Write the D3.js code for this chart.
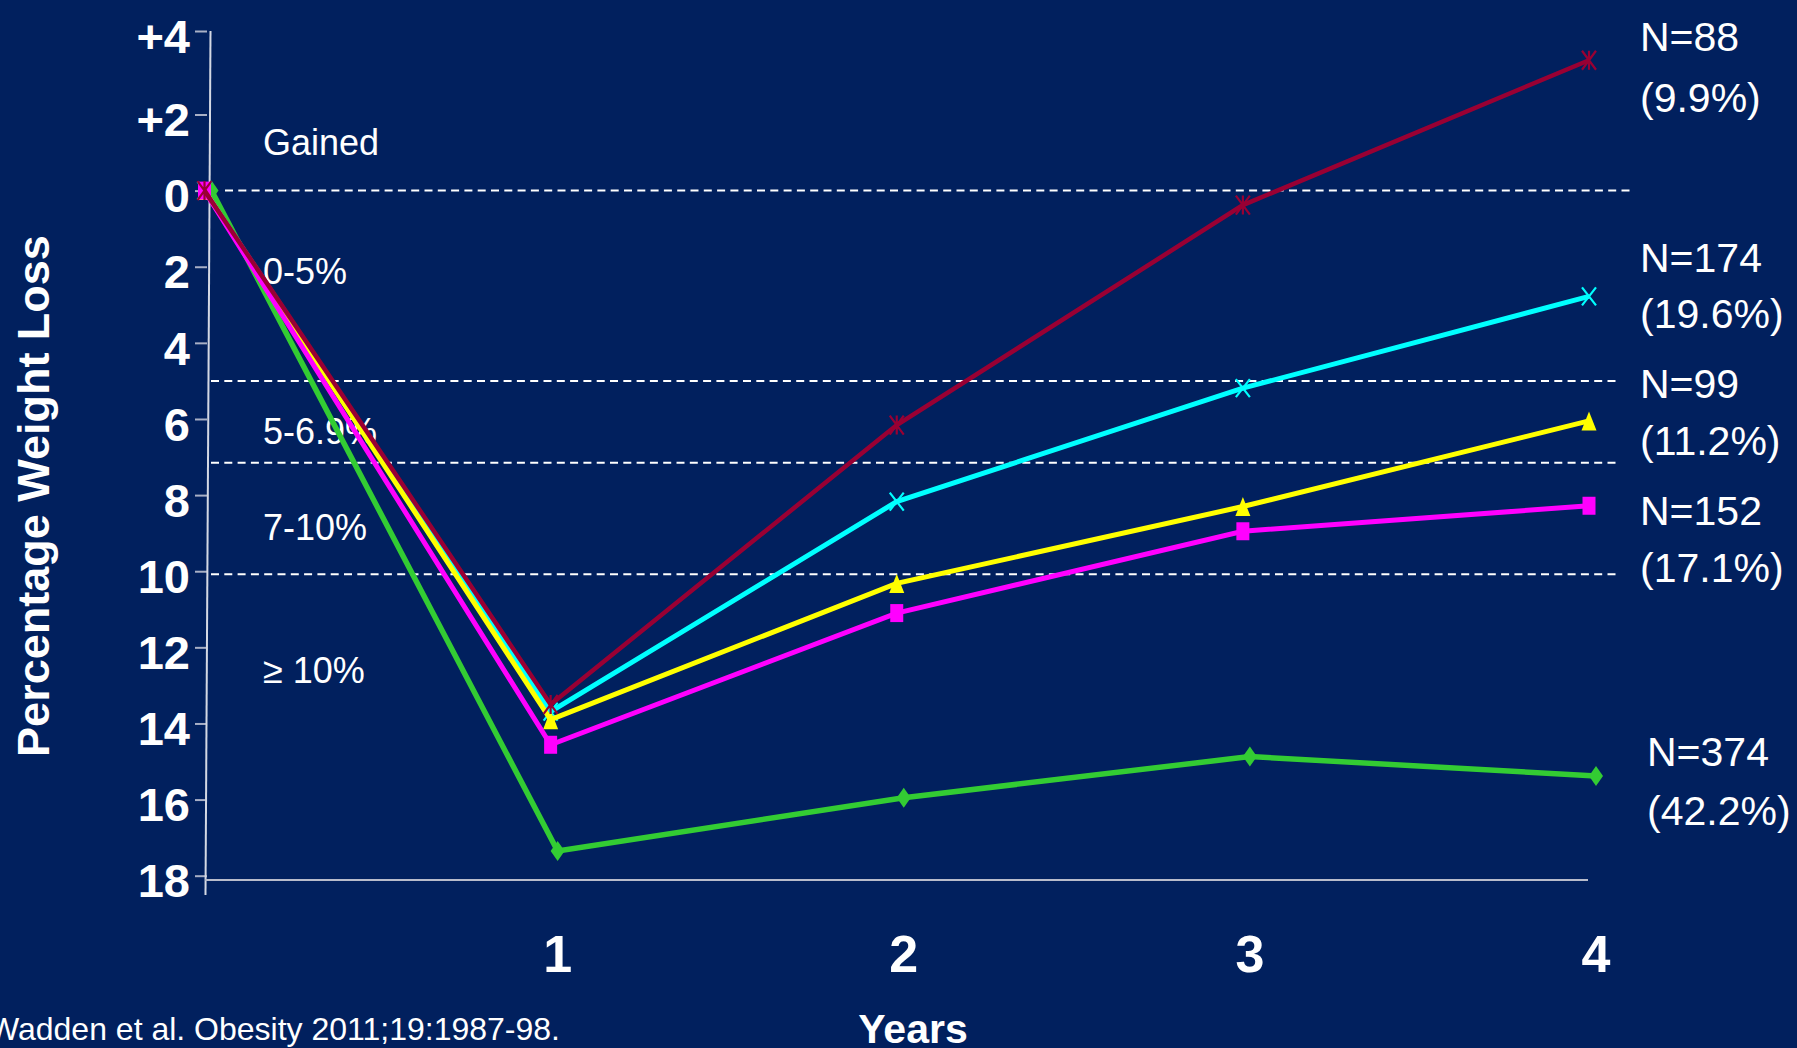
<!DOCTYPE html>
<html>
<head>
<meta charset="utf-8">
<script src="https://cdn.jsdelivr.net/npm/d3@7"></script>
<style>
  html, body { margin: 0; padding: 0; background: #01205e; overflow: hidden; }
  svg { display: block; }
  text { font-family: Arial, "Liberation Sans", sans-serif; fill: #ffffff; }
</style>
</head>
<body>
<svg id="chart" width="1797" height="1048"></svg>
<script>
// ---- data ----
const years = [0, 1, 2, 3, 4];
const yTickValues = [-4, -2, 0, 2, 4, 6, 8, 10, 12, 14, 16, 18];
const yTickLabels = ["+4", "+2", "0", "2", "4", "6", "8", "10", "12", "14", "16", "18"];
const xTickValues = [1, 2, 3, 4];

// percentage weight loss (negative = gained)
const gainedValues  = [0, 13.5, 6.16, 0.38, -3.3];
const loss0to5      = [0, 13.69, 8.17, 5.19, 2.78];
const loss5to69     = [0, 13.9, 10.32, 8.3, 6.05];
const loss7to10     = [0, 14.56, 11.1, 8.95, 8.28];
const loss10plus    = [0, 17.35, 15.95, 14.87, 15.38];

const groupN   = ["N=88", "N=174", "N=99", "N=152", "N=374"];
const groupPct = ["(9.9%)", "(19.6%)", "(11.2%)", "(17.1%)", "(42.2%)"];

const bandBoundaries = [0, 5, 7.15, 10.08];
const bandLabels = ["Gained", "0-5%", "5-6.9%", "7-10%", "\u2265 10%"];

// ---- layout ----
const svg = d3.select("#chart");
const W = 1797, H = 1048;
svg.append("rect").attr("width", W).attr("height", H).attr("fill", "#01205e");

const x = d3.scaleLinear().domain([0, 4]).range([204.5, 1589]);
const y = d3.scaleLinear().domain([-4, -2, 18]).range([31, 114.5, 875.7]);

// ---- marker shapes (slightly taller than wide) ----
const shapes = {
  square: (w, h) => ({ draw(c) { c.moveTo(-w/2, -h/2); c.lineTo(w/2, -h/2); c.lineTo(w/2, h/2); c.lineTo(-w/2, h/2); c.closePath(); } }),
  triangle: (w, h) => ({ draw(c) { c.moveTo(0, -h/2); c.lineTo(w/2, h/2); c.lineTo(-w/2, h/2); c.closePath(); } }),
  diamond: (w, h) => ({ draw(c) { c.moveTo(0, -h/2); c.lineTo(w/2, 0); c.lineTo(0, h/2); c.lineTo(-w/2, 0); c.closePath(); } }),
  cross: (w, h) => ({ draw(c) { c.moveTo(-w/2, -h/2); c.lineTo(w/2, h/2); c.moveTo(w/2, -h/2); c.lineTo(-w/2, h/2); } }),
  star: (w, h) => ({ draw(c) { c.moveTo(-w/2, -h/2); c.lineTo(w/2, h/2); c.moveTo(w/2, -h/2); c.lineTo(-w/2, h/2); c.moveTo(0, -h/2); c.lineTo(0, h/2); } })
};

const series = [
  { values: loss10plus, color: "#33cc33", width: 5.5, shape: "diamond",  w: 14, h: 20, filled: true,  dx: 7 },
  { values: loss0to5,   color: "#00ffff", width: 5,   shape: "cross",    w: 14, h: 18, filled: false, dx: 0 },
  { values: loss5to69,  color: "#ffff00", width: 5,   shape: "triangle", w: 15, h: 19, filled: true,  dx: 0 },
  { values: loss7to10,  color: "#ff00ff", width: 5,   shape: "square",   w: 13, h: 18, filled: true,  dx: 0 },
  { values: gainedValues, color: "#990033", width: 4.5, shape: "star",   w: 14, h: 19, filled: false, dx: 0 }
];

// ---- category boundary lines ----
const dashStarts = [225, 211, 211, 211];
const dashEnds = [1630, 1617, 1617, 1617];
svg.append("g").selectAll("line")
  .data(bandBoundaries)
  .join("line")
  .attr("x1", (d, i) => dashStarts[i])
  .attr("x2", (d, i) => dashEnds[i])
  .attr("y1", d => y(d))
  .attr("y2", d => y(d))
  .attr("stroke", "#ffffff")
  .attr("stroke-width", 2)
  .attr("stroke-dasharray", "8,5.3");

// band labels
const bandBaselines = [155, 284, 444, 540, 683];
svg.append("g").selectAll("text")
  .data(bandLabels)
  .join("text")
  .attr("x", 263)
  .attr("y", (d, i) => bandBaselines[i])
  .attr("font-size", 36)
  .text(d => d);

// ---- y axis ----
const yAxis = d3.axisLeft(y).tickValues(yTickValues).tickSize(12).tickFormat((d, i) => yTickLabels[i]);
const yg = svg.append("g").attr("transform", "translate(207,0)").call(yAxis);
yg.select(".domain").remove();
yg.selectAll(".tick line").attr("stroke", "#a9b0c6").attr("stroke-width", 2);
yg.selectAll(".tick text")
  .attr("x", -17)
  .attr("dy", "0.45em")
  .attr("font-size", 47)
  .attr("font-weight", "bold")
  .attr("font-family", "Arial, 'Liberation Sans', sans-serif")
  .attr("fill", "#ffffff");
svg.append("line")
  .attr("x1", 210.5).attr("y1", y(-4))
  .attr("x2", 205.5).attr("y2", 895)
  .attr("stroke", "#d4d8e4").attr("stroke-width", 2);

// ---- x axis ----
svg.append("line")
  .attr("x1", 205).attr("x2", 1588)
  .attr("y1", 880).attr("y2", 880)
  .attr("stroke", "#b8bccb").attr("stroke-width", 2);
svg.append("g").selectAll("text")
  .data(xTickValues)
  .join("text")
  .attr("x", d => x(d) + 7)
  .attr("y", 972)
  .attr("text-anchor", "middle")
  .attr("font-size", 52)
  .attr("font-weight", "bold")
  .text(d => d);

// ---- series ----
const line = d3.line();
series.forEach(s => {
  const pts = years.map((yr, i) => [x(yr) + s.dx, y(s.values[i])]);
  const g = svg.append("g");
  g.append("path")
    .attr("d", line(pts))
    .attr("fill", "none")
    .attr("stroke", s.color)
    .attr("stroke-width", s.width)
    .attr("stroke-linejoin", "miter");
  const sym = d3.symbol().type(shapes[s.shape](s.w, s.h));
  g.selectAll("path.mk")
    .data(pts)
    .join("path")
    .attr("class", "mk")
    .attr("transform", d => `translate(${d[0]},${d[1]})`)
    .attr("d", sym())
    .attr("fill", s.filled ? s.color : "none")
    .attr("stroke", s.color)
    .attr("stroke-width", s.filled ? 0 : 2.2);
});

// ---- group labels ----
const nBaselines = [51, 272, 398, 525, 766];
const pctBaselines = [112, 328, 455, 582, 825];
const labelX = [1640, 1640, 1640, 1640, 1647];
const lg = svg.append("g");
lg.selectAll("text.n")
  .data(groupN)
  .join("text")
  .attr("class", "n")
  .attr("x", (d, i) => labelX[i])
  .attr("y", (d, i) => nBaselines[i])
  .attr("font-size", 41)
  .text(d => d);
lg.selectAll("text.p")
  .data(groupPct)
  .join("text")
  .attr("class", "p")
  .attr("x", (d, i) => labelX[i])
  .attr("y", (d, i) => pctBaselines[i])
  .attr("font-size", 41)
  .text(d => d);

// ---- titles ----
svg.append("text")
  .attr("transform", "translate(49,496) rotate(-90)")
  .attr("text-anchor", "middle")
  .attr("font-size", 45)
  .attr("font-weight", "bold")
  .text("Percentage Weight Loss");

svg.append("text")
  .attr("x", 913)
  .attr("y", 1043)
  .attr("text-anchor", "middle")
  .attr("font-size", 41)
  .attr("font-weight", "bold")
  .text("Years");

svg.append("text")
  .attr("x", 560)
  .attr("y", 1040)
  .attr("text-anchor", "end")
  .attr("font-size", 32)
  .text("Wadden et al. Obesity 2011;19:1987-98.");
</script>
</body>
</html>
